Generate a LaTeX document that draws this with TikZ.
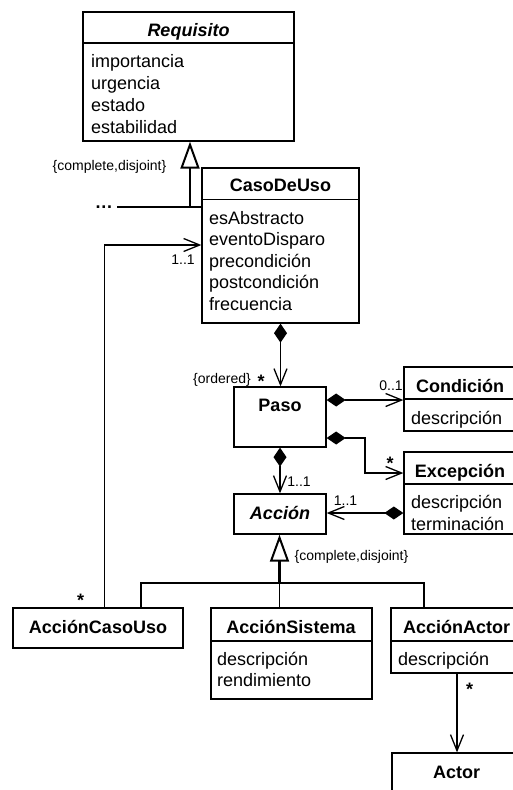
\documentclass[tikz,border=0pt]{standalone}
\usepackage{fontspec}
\setmainfont{Liberation Sans}
\usetikzlibrary{arrows.meta}
\begin{document}
\begin{tikzpicture}[x=1pt,y=-1pt,
  box/.style={draw, line width=1.3pt, inner sep=0pt, rectangle},
  sepline/.style={line width=1.3pt},
  attr/.style={anchor=base west, inner sep=0pt, font=\fontsize{18}{21}\selectfont},
  cname/.style={anchor=base, inner sep=0pt, font=\bfseries\fontsize{18}{21}\selectfont},
  aname/.style={anchor=base, inner sep=0pt, font=\bfseries\itshape\fontsize{18}{21}\selectfont},
  mult/.style={anchor=base, inner sep=0pt, font=\fontsize{14}{16}\selectfont},
  star/.style={anchor=base, inner sep=0pt, font=\bfseries\fontsize{18}{20}\selectfont},
  conn/.style={line width=1.3pt},
  nav/.style={conn, -{Straight Barb[length=16pt,width=13pt,line width=1.3pt]}},
  comp/.style={conn, {Diamond[length=19pt,width=13pt]}-{Straight Barb[length=16pt,width=13pt,line width=1.3pt]}},
  gen/.style={line width=2.5pt, -{Triangle[open,length=27pt,width=19pt,line width=2pt]}},
]
\useasboundingbox (0,0) rectangle (513,790);
\clip (0,0) rectangle (513,790);

% Requisito
\node[box, minimum width=211pt, minimum height=129pt] (req) at (188.5,76.5) {};
\draw[sepline] (req.west |- 0,43) -- (req.east |- 0,43);
\node[aname] (reqn) at (188.5,36) {Requisito};
\node[attr] (reqa1) at (91,67) {importancia};
\node[attr] (reqa2) at (91,89) {urgencia};
\node[attr] (reqa3) at (91,111) {estado};
\node[attr] (reqa4) at (91,133) {estabilidad};

% CasoDeUso
\node[box, minimum width=157pt, minimum height=155pt] (cdu) at (280.5,245.5) {};
\draw[sepline] (cdu.west |- 0,199.5) -- (cdu.east |- 0,199.5);
\node[cname] (cdun) at (280.5,191) {CasoDeUso};
\node[attr] (cdua1) at (209,224) {esAbstracto};
\node[attr] (cdua2) at (209,245.5) {eventoDisparo};
\node[attr] (cdua3) at (209,267) {precondición};
\node[attr] (cdua4) at (209,288.5) {postcondición};
\node[attr] (cdua5) at (209,310) {frecuencia};

% Paso
\node[box, minimum width=92pt, minimum height=60pt] (paso) at (280,417) {};
\node[cname] (pason) at (280,411.5) {Paso};

% Condicion
\node[box, minimum width=116pt, minimum height=64pt] (cond) at (462,399) {};
\draw[sepline] (cond.west |- 0,399) -- (cond.east |- 0,399);
\node[cname] (condn) at (460,392) {Condición};
\node[attr] (conda1) at (411,424) {descripción};

% Excepcion
\node[box, minimum width=116pt, minimum height=82pt] (exc) at (462,493) {};
\draw[sepline] (exc.west |- 0,484) -- (exc.east |- 0,484);
\node[cname] (excn) at (460,477) {Excepción};
\node[attr] (exca1) at (411,508) {descripción};
\node[attr] (exca2) at (411,530) {terminación};

% Accion
\node[box, minimum width=92pt, minimum height=40pt] (acc) at (280,514) {};
\node[aname] (accn) at (280,519.5) {Acción};

% AccionCasoUso
\node[box, minimum width=170pt, minimum height=40pt] (acu) at (98,628) {};
\node[cname] (acun) at (98,633.5) {AcciónCasoUso};

% AccionSistema
\node[box, minimum width=161pt, minimum height=91pt] (asis) at (291.5,653.5) {};
\draw[sepline] (asis.west |- 0,641) -- (asis.east |- 0,641);
\node[cname] (asisn) at (291,633.5) {AcciónSistema};
\node[attr] (asisa1) at (217,665) {descripción};
\node[attr] (asisa2) at (217,686) {rendimiento};

% AccionActor
\node[box, minimum width=134pt, minimum height=65pt] (aact) at (458,640.5) {};
\draw[sepline] (aact.west |- 0,641) -- (aact.east |- 0,641);
\node[cname] (aactn) at (456.7,633.5) {AcciónActor};
\node[attr] (aacta1) at (398,665) {descripción};

% Actor
\node[box, minimum width=133pt, minimum height=57pt] (actor) at (458.5,781.5) {};
\node[cname] (actorn) at (456.7,778) {Actor};

% Generalization Requisito
\coordinate (g1) at (190,207);
\draw[gen] (g1) -- (g1 |- req.south);
\node[anchor=base east, inner sep=0pt, font=\bfseries\fontsize{18}{20}\selectfont] (dots) at (113,208.5) {…};
\draw[conn] ([xshift=4pt]dots.east |- g1) -- (cdu.west |- g1);
\node[mult] (m1) at (109.5,170.5) {\{complete,disjoint\}};

% Compositions
\draw[comp] (cdu.south) -- (cdu.south |- paso.north);
\coordinate (pc) at (0,400);
\draw[comp] (paso.east |- pc) -- (cond.west |- pc);
\coordinate (pe1) at (365,438);
\coordinate (pe2) at (365,473);
\draw[comp] (paso.east |- pe1) -- (pe1) -- (pe2) -- (exc.west |- pe2);
\draw[comp] (paso.south) -- (acc.north);
\coordinate (ea) at (0,513);
\draw[comp] (exc.west |- ea) -- (acc.east |- ea);

% Generalization Accion
\coordinate (g2) at (279.5,583);
\coordinate (j1) at (141,583);
\coordinate (j3) at (424,583);
\draw[gen] (g2) -- (g2 |- acc.south);
\draw[conn] (j1 |- acu.north) -- (j1) -- (j3) -- (j3 |- aact.north);
\draw[conn] (g2) -- (g2 |- asis.north);
\node[mult] (m7) at (351.5,560) {\{complete,disjoint\}};

% Navigations
\coordinate (u1) at (104.5,245);
\draw[nav] (u1 |- acu.north) -- (u1) -- (cdu.west |- u1);
\coordinate (a1) at (457,0);
\draw[nav] (a1 |- aact.south) -- (a1 |- actor.north);

% Multiplicities
\node[mult] (m2) at (183,264) {1..1};
\node[mult] (m3) at (222,383) {\{ordered\}};
\node[star] (s1) at (261,387) {*};
\node[mult] (m4) at (391,390) {0..1};
\node[star] (s2) at (390,469) {*};
\node[mult] (m5) at (299,486.5) {1..1};
\node[mult] (m6) at (345.5,505) {1..1};
\node[star] (s3) at (80.7,606) {*};
\node[star] (s4) at (469.7,695) {*};
\end{tikzpicture}
\end{document}
